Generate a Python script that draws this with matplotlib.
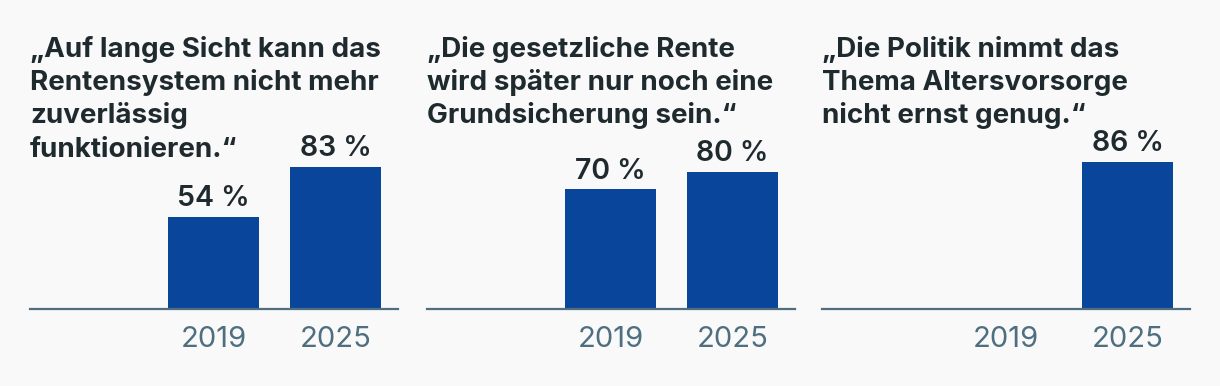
import matplotlib
matplotlib.use("Agg")
import matplotlib.pyplot as plt
import numpy as np

titles = [
    ["„Auf lange Sicht kann das", "Rentensystem nicht mehr", "zuverlässig", "funktionieren.“"],
    ["„Die gesetzliche Rente", "wird später nur noch eine", "Grundsicherung sein.“"],
    ["„Die Politik nimmt das", "Thema Altersvorsorge", "nicht ernst genug.“"],
]
years = ["2019", "2025"]
values = [
    [54, 83],
    [70, 80],
    [None, 86],
]

BG = "#f9f9f9"
BAR = "#08459b"
TXT = "#1f2a2f"
TICK = "#4f6f80"

W, H = 1220, 386
fig = plt.figure(figsize=(W / 100, H / 100), dpi=100, facecolor=BG)
plt.rcParams['font.family'] = ['Inter', 'DejaVu Sans']

lefts = [30, 427, 822]
pw = 368
base_y = 309
full_h = 171

for i in range(3):
    ax = fig.add_axes([lefts[i] / W, (H - base_y) / H, pw / W, full_h / H])
    ax.set_facecolor(BG)
    x = np.arange(len(years))
    for j, v in enumerate(values[i]):
        if v is None:
            continue
        ax.bar(x[j], v, width=0.746, color=BAR, zorder=2)
        ax.text(x[j], v + 2.8, f"{v} %", ha="center", va="bottom",
                fontsize=20.5, fontweight="semibold", color=TXT, clip_on=False)
    ax.set_xlim(-1.504, 1.512)
    ax.set_ylim(0, 100)
    for s in ["top", "right", "left"]:
        ax.spines[s].set_visible(False)
    ax.spines["bottom"].set_color(TICK)
    ax.spines["bottom"].set_linewidth(1.6)
    ax.set_yticks([])
    ax.set_xticks(x)
    ax.set_xticklabels(years, fontsize=21, color=TICK)
    ax.tick_params(axis="x", length=0, pad=12)
    for k, line in enumerate(titles[i]):
        fig.text(lefts[i] / W, 1 - (57 + 33.2 * k) / H, line, ha="left", va="baseline",
                 fontsize=20, fontweight="bold", color=TXT)

fig.savefig("out.png", dpi=100, facecolor=BG)
